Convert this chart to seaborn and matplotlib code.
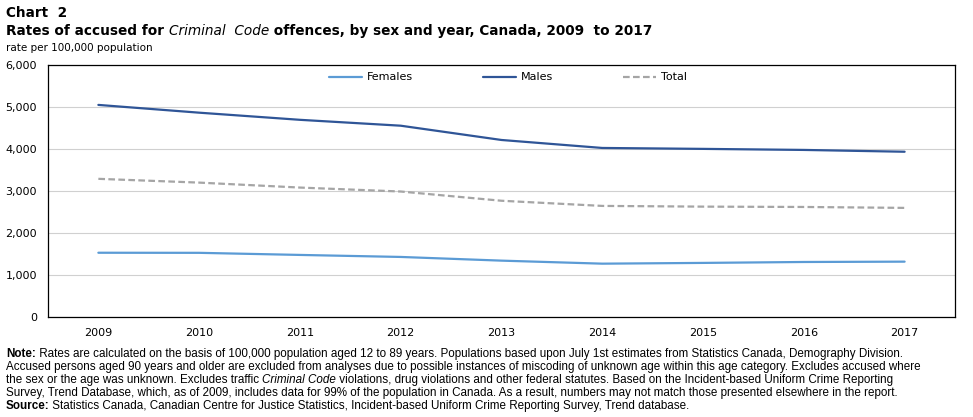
import pandas as pd
import matplotlib
matplotlib.use("Agg")
import matplotlib.pyplot as plt
import seaborn as sns

years = [2009, 2010, 2011, 2012, 2013, 2014, 2015, 2016, 2017]
females = [1530, 1528, 1478, 1430, 1342, 1270, 1288, 1310, 1318]
males = [5050, 4865, 4695, 4555, 4215, 4025, 4003, 3978, 3935]
total = [3290, 3200, 3082, 2988, 2768, 2645, 2628, 2620, 2598]
series_names = ["Females", "Males", "Total"]
colors = ["#5b9bd5", "#2f5597", "#a5a5a5"]

df = pd.DataFrame({
    "year": years * 3,
    "rate": females + males + total,
    "series": ["Females"] * 9 + ["Males"] * 9 + ["Total"] * 9,
})

sns.set_style("white")
plt.rcParams["font.family"] = ["DejaVu Sans"]
plt.rcParams["text.color"] = "black"
plt.rcParams["xtick.color"] = "black"
plt.rcParams["ytick.color"] = "black"

fig = plt.figure(figsize=(9.73, 4.17), dpi=100)
ax = fig.add_axes([0.0493, 0.2398, 0.9322, 0.6043])

sns.lineplot(data=df, x="year", y="rate", hue="series", style="series",
             hue_order=series_names, style_order=series_names,
             palette=colors, dashes={"Females": "", "Males": "", "Total": (3, 1.5)},
             linewidth=1.6, ax=ax)

ax.set_xlim(2008.5, 2017.5)
ax.set_ylim(0, 6000)
ax.set_xticks(years)
ax.set_yticks(range(0, 6001, 1000))
ax.set_yticklabels([f"{v:,}" for v in range(0, 6001, 1000)])
ax.tick_params(axis="both", labelsize=8, length=0, pad=8)
ax.set_xlabel("")
ax.set_ylabel("")
ax.grid(axis="y", color="#d0d0d0", linewidth=0.8)
for s in ax.spines.values():
    s.set_color("black")
    s.set_linewidth(0.9)

ax.legend(loc="upper center", ncol=3, frameon=False, fontsize=8,
          handlelength=3.0, handletextpad=0.4, columnspacing=6.3,
          bbox_to_anchor=(0.507, 1.01))

renderer = fig.canvas.get_renderer()


def draw_pieces(x, y, pieces, size, family="DejaVu Sans"):
    # pieces: list of (text, weight, style)
    for txt, weight, style in pieces:
        t = fig.text(x, y, txt, fontsize=size, fontweight=weight, fontstyle=style,
                     family=family, va="baseline", ha="left")
        bb = t.get_window_extent(renderer=renderer)
        x += bb.width / fig.bbox.width


draw_pieces(0.006, 1 - 17 / 417, [("Chart  2", "bold", "normal")], 9.8)
draw_pieces(0.006, 1 - 35 / 417, [
    ("Rates of accused for ", "bold", "normal"),
    ("Criminal  Code", "normal", "italic"),
    (" offences, by sex and year, Canada, 2009  to 2017", "bold", "normal"),
], 9.8)
draw_pieces(0.006, 1 - 51 / 417, [("rate per 100,000 population", "normal", "normal")], 7.5)

note_font = ["Liberation Sans", "DejaVu Sans"]
lines = [
    [("Note:", "bold", "normal"),
     (" Rates are calculated on the basis of 100,000 population aged 12 to 89 years. Populations based upon July 1st estimates from Statistics Canada, Demography Division.", "normal", "normal")],
    [("Accused persons aged 90 years and older are excluded from analyses due to possible instances of miscoding of unknown age within this age category. Excludes accused where", "normal", "normal")],
    [("the sex or the age was unknown. Excludes traffic ", "normal", "normal"),
     ("Criminal Code", "normal", "italic"),
     (" violations, drug violations and other federal statutes. Based on the Incident-based Uniform Crime Reporting", "normal", "normal")],
    [("Survey, Trend Database, which, as of 2009, includes data for 99% of the population in Canada. As a result, numbers may not match those presented elsewhere in the report.", "normal", "normal")],
    [("Source:", "bold", "normal"),
     (" Statistics Canada, Canadian Centre for Justice Statistics, Incident-based Uniform Crime Reporting Survey, Trend database.", "normal", "normal")],
]

# fit the second (widest) note line to the reference width
probe = fig.text(0, 0, lines[1][0][0], fontsize=10, family=note_font)
w = probe.get_window_extent(renderer=renderer).width
probe.remove()
nsize = min(8.4, 10 * 932 / w)

for i, pieces in enumerate(lines):
    draw_pieces(0.006, 1 - (357 + 13 * i) / 417, pieces, nsize, family=note_font)

fig.savefig("out.png", dpi=100)
